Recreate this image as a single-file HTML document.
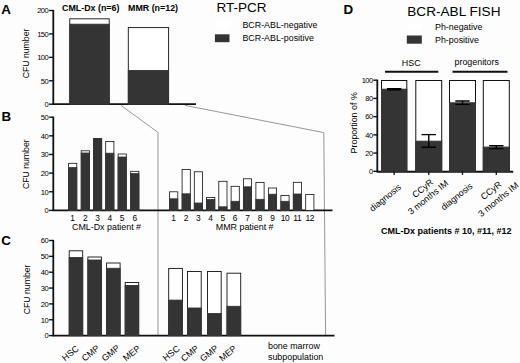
<!DOCTYPE html>
<html lang="en">
<head>
<meta charset="utf-8">
<title>Figure</title>
<style>
html,body{margin:0;padding:0;background:#fff;}
body{width:520px;height:363px;overflow:hidden;}
svg{display:block;}
svg text{font-family:"Liberation Sans", Arial, sans-serif;fill:#000;}
</style>
</head>
<body>
<svg width="520" height="363" viewBox="0 0 520 363">
<rect x="0" y="0" width="520" height="363" fill="#fdfdfd"/>
<text x="1.2" y="14.2" font-size="13.4" text-anchor="start" font-weight="bold">A</text>
<line x1="53.3" y1="9.9" x2="53.3" y2="104.8" stroke="#111" stroke-width="1.8"/>
<line x1="49.099999999999994" y1="104.2" x2="53.3" y2="104.2" stroke="#111" stroke-width="1.4"/>
<text x="48.3" y="107.0" font-size="7.6" text-anchor="end" letter-spacing="-0.5">0</text>
<line x1="49.099999999999994" y1="80.775" x2="53.3" y2="80.775" stroke="#111" stroke-width="1.4"/>
<text x="48.3" y="83.575" font-size="7.6" text-anchor="end" letter-spacing="-0.5">50</text>
<line x1="49.099999999999994" y1="57.35" x2="53.3" y2="57.35" stroke="#111" stroke-width="1.4"/>
<text x="48.3" y="60.15" font-size="7.6" text-anchor="end" letter-spacing="-0.5">100</text>
<line x1="49.099999999999994" y1="33.925" x2="53.3" y2="33.925" stroke="#111" stroke-width="1.4"/>
<text x="48.3" y="36.724999999999994" font-size="7.6" text-anchor="end" letter-spacing="-0.5">150</text>
<line x1="49.099999999999994" y1="10.5" x2="53.3" y2="10.5" stroke="#111" stroke-width="1.4"/>
<text x="48.3" y="13.3" font-size="7.6" text-anchor="end" letter-spacing="-0.5">200</text>
<line x1="52.6" y1="104.2" x2="196" y2="104.2" stroke="#111" stroke-width="1.7"/>
<text x="29.2" y="53.5" font-size="8.7" text-anchor="middle" transform="rotate(-90 29.2 53.5)">CFU number</text>
<rect x="69.8" y="18.8" width="39.40" height="85.40" fill="#fff" stroke="#111" stroke-width="0.9"/>
<rect x="69.8" y="24.2" width="39.40" height="80.00" fill="#343434" stroke="#343434" stroke-width="0.9"/>
<rect x="128.3" y="27.6" width="40.30" height="76.60" fill="#fff" stroke="#111" stroke-width="0.9"/>
<rect x="128.3" y="70.5" width="40.30" height="33.70" fill="#343434" stroke="#343434" stroke-width="0.9"/>
<text x="62" y="11.4" font-size="8.9" text-anchor="start" font-weight="bold">CML-Dx (n=6)</text>
<text x="128.0" y="11.4" font-size="8.9" text-anchor="start" font-weight="bold">MMR (n=12)</text>
<text x="216.5" y="12.2" font-size="13.5" text-anchor="start">RT-PCR</text>
<text x="242.4" y="28.2" font-size="8.9" text-anchor="start">BCR-ABL-negative</text>
<text x="242.4" y="41.4" font-size="8.9" text-anchor="start">BCR-ABL-positive</text>
<rect x="214.9" y="21.3" width="14.6" height="7.9" fill="#fff"/>
<rect x="214.9" y="34.3" width="14.6" height="7.9" fill="#343434"/>
<polyline points="121,105.4 158,132.4 158,335.5" fill="none" stroke="#7c7c7c" stroke-width="0.8"/>
<polyline points="185,105.4 323.8,132.6 325.6,335.5" fill="none" stroke="#7c7c7c" stroke-width="0.8"/>
<text x="1.4" y="121.3" font-size="13.4" text-anchor="start" font-weight="bold">B</text>
<line x1="53.3" y1="116.60000000000001" x2="53.3" y2="211.0" stroke="#111" stroke-width="1.8"/>
<line x1="49.099999999999994" y1="210.4" x2="53.3" y2="210.4" stroke="#111" stroke-width="1.4"/>
<text x="48.3" y="213.20000000000002" font-size="7.6" text-anchor="end" letter-spacing="-0.5">0</text>
<line x1="49.099999999999994" y1="191.76" x2="53.3" y2="191.76" stroke="#111" stroke-width="1.4"/>
<text x="48.3" y="194.56" font-size="7.6" text-anchor="end" letter-spacing="-0.5">10</text>
<line x1="49.099999999999994" y1="173.12" x2="53.3" y2="173.12" stroke="#111" stroke-width="1.4"/>
<text x="48.3" y="175.92000000000002" font-size="7.6" text-anchor="end" letter-spacing="-0.5">20</text>
<line x1="49.099999999999994" y1="154.48000000000002" x2="53.3" y2="154.48000000000002" stroke="#111" stroke-width="1.4"/>
<text x="48.3" y="157.28000000000003" font-size="7.6" text-anchor="end" letter-spacing="-0.5">30</text>
<line x1="49.099999999999994" y1="135.84" x2="53.3" y2="135.84" stroke="#111" stroke-width="1.4"/>
<text x="48.3" y="138.64000000000001" font-size="7.6" text-anchor="end" letter-spacing="-0.5">40</text>
<line x1="49.099999999999994" y1="117.2" x2="53.3" y2="117.2" stroke="#111" stroke-width="1.4"/>
<text x="48.3" y="120.0" font-size="7.6" text-anchor="end" letter-spacing="-0.5">50</text>
<line x1="52.6" y1="210.4" x2="332.5" y2="210.4" stroke="#111" stroke-width="1.7"/>
<text x="29.5" y="164.2" font-size="8.7" text-anchor="middle" transform="rotate(-90 29.5 164.2)">CFU number</text>
<rect x="68.6" y="163.3" width="8.20" height="47.10" fill="#fff" stroke="#111" stroke-width="0.8"/>
<rect x="68.6" y="167.6" width="8.20" height="42.80" fill="#343434" stroke="#343434" stroke-width="0.8"/>
<text x="72.69999999999999" y="220.6" font-size="8.4" text-anchor="middle">1</text>
<rect x="81.2" y="150.8" width="8.20" height="59.60" fill="#fff" stroke="#111" stroke-width="0.8"/>
<rect x="81.2" y="153.0" width="8.20" height="57.40" fill="#343434" stroke="#343434" stroke-width="0.8"/>
<text x="85.3" y="220.6" font-size="8.4" text-anchor="middle">2</text>
<rect x="93.5" y="138.6" width="8.20" height="71.80" fill="#fff" stroke="#111" stroke-width="0.8"/>
<rect x="93.5" y="138.6" width="8.20" height="71.80" fill="#343434" stroke="#343434" stroke-width="0.8"/>
<text x="97.6" y="220.6" font-size="8.4" text-anchor="middle">3</text>
<rect x="105.7" y="141.4" width="8.20" height="69.00" fill="#fff" stroke="#111" stroke-width="0.8"/>
<rect x="105.7" y="153.2" width="8.20" height="57.20" fill="#343434" stroke="#343434" stroke-width="0.8"/>
<text x="109.8" y="220.6" font-size="8.4" text-anchor="middle">4</text>
<rect x="118.1" y="154.0" width="8.20" height="56.40" fill="#fff" stroke="#111" stroke-width="0.8"/>
<rect x="118.1" y="157.0" width="8.20" height="53.40" fill="#343434" stroke="#343434" stroke-width="0.8"/>
<text x="122.19999999999999" y="220.6" font-size="8.4" text-anchor="middle">5</text>
<rect x="130.7" y="171.3" width="8.20" height="39.10" fill="#fff" stroke="#111" stroke-width="0.8"/>
<rect x="130.7" y="173.6" width="8.20" height="36.80" fill="#343434" stroke="#343434" stroke-width="0.8"/>
<text x="134.79999999999998" y="220.6" font-size="8.4" text-anchor="middle">6</text>
<text x="72" y="230.4" font-size="8.9" text-anchor="start">CML-Dx patient #</text>
<rect x="169.60000000000002" y="191.8" width="8.20" height="18.60" fill="#fff" stroke="#111" stroke-width="0.8"/>
<rect x="169.60000000000002" y="198.8" width="8.20" height="11.60" fill="#343434" stroke="#343434" stroke-width="0.8"/>
<text x="173.70000000000002" y="220.6" font-size="8.4" text-anchor="middle">1</text>
<rect x="182.10000000000002" y="169.5" width="8.20" height="40.90" fill="#fff" stroke="#111" stroke-width="0.8"/>
<rect x="182.10000000000002" y="193.8" width="8.20" height="16.60" fill="#343434" stroke="#343434" stroke-width="0.8"/>
<text x="186.20000000000002" y="220.6" font-size="8.4" text-anchor="middle">2</text>
<rect x="194.3" y="171.8" width="8.20" height="38.60" fill="#fff" stroke="#111" stroke-width="0.8"/>
<rect x="194.3" y="203.0" width="8.20" height="7.40" fill="#343434" stroke="#343434" stroke-width="0.8"/>
<text x="198.4" y="220.6" font-size="8.4" text-anchor="middle">3</text>
<rect x="206.60000000000002" y="197.5" width="8.20" height="12.90" fill="#fff" stroke="#111" stroke-width="0.8"/>
<rect x="206.60000000000002" y="199.5" width="8.20" height="10.90" fill="#343434" stroke="#343434" stroke-width="0.8"/>
<text x="210.70000000000002" y="220.6" font-size="8.4" text-anchor="middle">4</text>
<rect x="218.8" y="181.3" width="8.20" height="29.10" fill="#fff" stroke="#111" stroke-width="0.8"/>
<rect x="218.8" y="206.8" width="8.20" height="3.60" fill="#343434" stroke="#343434" stroke-width="0.8"/>
<text x="222.9" y="220.6" font-size="8.4" text-anchor="middle">5</text>
<rect x="231.10000000000002" y="186.3" width="8.20" height="24.10" fill="#fff" stroke="#111" stroke-width="0.8"/>
<rect x="231.10000000000002" y="201.3" width="8.20" height="9.10" fill="#343434" stroke="#343434" stroke-width="0.8"/>
<text x="235.20000000000002" y="220.6" font-size="8.4" text-anchor="middle">6</text>
<rect x="243.4" y="178.8" width="8.20" height="31.60" fill="#fff" stroke="#111" stroke-width="0.8"/>
<rect x="243.4" y="186.8" width="8.20" height="23.60" fill="#343434" stroke="#343434" stroke-width="0.8"/>
<text x="247.5" y="220.6" font-size="8.4" text-anchor="middle">7</text>
<rect x="255.9" y="182.5" width="8.20" height="27.90" fill="#fff" stroke="#111" stroke-width="0.8"/>
<rect x="255.9" y="199.3" width="8.20" height="11.10" fill="#343434" stroke="#343434" stroke-width="0.8"/>
<text x="260.0" y="220.6" font-size="8.4" text-anchor="middle">8</text>
<rect x="268.40000000000003" y="188.0" width="8.20" height="22.40" fill="#fff" stroke="#111" stroke-width="0.8"/>
<rect x="268.40000000000003" y="194.2" width="8.20" height="16.20" fill="#343434" stroke="#343434" stroke-width="0.8"/>
<text x="272.5" y="220.6" font-size="8.4" text-anchor="middle">9</text>
<rect x="280.90000000000003" y="195.5" width="8.20" height="14.90" fill="#fff" stroke="#111" stroke-width="0.8"/>
<rect x="280.90000000000003" y="201.3" width="8.20" height="9.10" fill="#343434" stroke="#343434" stroke-width="0.8"/>
<text x="285.0" y="220.6" font-size="8.4" text-anchor="middle" letter-spacing="-0.3">10</text>
<rect x="293.3" y="182.3" width="8.20" height="28.10" fill="#fff" stroke="#111" stroke-width="0.8"/>
<rect x="293.3" y="194.0" width="8.20" height="16.40" fill="#343434" stroke="#343434" stroke-width="0.8"/>
<text x="297.4" y="220.6" font-size="8.4" text-anchor="middle" letter-spacing="-0.3">11</text>
<rect x="305.7" y="194.5" width="8.20" height="15.90" fill="#fff" stroke="#111" stroke-width="0.8"/>
<text x="309.79999999999995" y="220.6" font-size="8.4" text-anchor="middle" letter-spacing="-0.3">12</text>
<text x="215.8" y="230.4" font-size="8.9" text-anchor="start">MMR patient #</text>
<text x="1.2" y="244.8" font-size="13.4" text-anchor="start" font-weight="bold">C</text>
<line x1="53.3" y1="239.9" x2="53.3" y2="336.20000000000005" stroke="#111" stroke-width="1.8"/>
<line x1="49.099999999999994" y1="335.6" x2="53.3" y2="335.6" stroke="#111" stroke-width="1.4"/>
<text x="48.3" y="338.40000000000003" font-size="7.6" text-anchor="end" letter-spacing="-0.5">0</text>
<line x1="49.099999999999994" y1="319.75" x2="53.3" y2="319.75" stroke="#111" stroke-width="1.4"/>
<text x="48.3" y="322.55" font-size="7.6" text-anchor="end" letter-spacing="-0.5">10</text>
<line x1="49.099999999999994" y1="303.90000000000003" x2="53.3" y2="303.90000000000003" stroke="#111" stroke-width="1.4"/>
<text x="48.3" y="306.70000000000005" font-size="7.6" text-anchor="end" letter-spacing="-0.5">20</text>
<line x1="49.099999999999994" y1="288.05" x2="53.3" y2="288.05" stroke="#111" stroke-width="1.4"/>
<text x="48.3" y="290.85" font-size="7.6" text-anchor="end" letter-spacing="-0.5">30</text>
<line x1="49.099999999999994" y1="272.2" x2="53.3" y2="272.2" stroke="#111" stroke-width="1.4"/>
<text x="48.3" y="275.0" font-size="7.6" text-anchor="end" letter-spacing="-0.5">40</text>
<line x1="49.099999999999994" y1="256.35" x2="53.3" y2="256.35" stroke="#111" stroke-width="1.4"/>
<text x="48.3" y="259.15000000000003" font-size="7.6" text-anchor="end" letter-spacing="-0.5">50</text>
<line x1="49.099999999999994" y1="240.5" x2="53.3" y2="240.5" stroke="#111" stroke-width="1.4"/>
<text x="48.3" y="243.3" font-size="7.6" text-anchor="end" letter-spacing="-0.5">60</text>
<line x1="52.6" y1="335.6" x2="334.5" y2="335.6" stroke="#111" stroke-width="1.7"/>
<text x="29.6" y="289.4" font-size="8.7" text-anchor="middle" transform="rotate(-90 29.6 289.4)">CFU number</text>
<rect x="69.19999999999999" y="250.8" width="13.50" height="84.80" fill="#fff" stroke="#111" stroke-width="0.9"/>
<rect x="69.19999999999999" y="257.5" width="13.50" height="78.10" fill="#343434" stroke="#343434" stroke-width="0.9"/>
<g transform="translate(70.3 353.0) rotate(-39)">
<text x="0" y="3.19" font-size="8.9" text-anchor="middle">HSC</text>
</g>
<rect x="87.89999999999999" y="257.0" width="13.50" height="78.60" fill="#fff" stroke="#111" stroke-width="0.9"/>
<rect x="87.89999999999999" y="260.0" width="13.50" height="75.60" fill="#343434" stroke="#343434" stroke-width="0.9"/>
<g transform="translate(90.5 353.0) rotate(-39)">
<text x="0" y="3.19" font-size="8.9" text-anchor="middle">CMP</text>
</g>
<rect x="106.6" y="263.0" width="13.50" height="72.60" fill="#fff" stroke="#111" stroke-width="0.9"/>
<rect x="106.6" y="268.3" width="13.50" height="67.30" fill="#343434" stroke="#343434" stroke-width="0.9"/>
<g transform="translate(110.5 353.0) rotate(-39)">
<text x="0" y="3.19" font-size="8.9" text-anchor="middle">GMP</text>
</g>
<rect x="125.19999999999999" y="282.5" width="13.50" height="53.10" fill="#fff" stroke="#111" stroke-width="0.9"/>
<rect x="125.19999999999999" y="285.5" width="13.50" height="50.10" fill="#343434" stroke="#343434" stroke-width="0.9"/>
<g transform="translate(131.5 353.0) rotate(-39)">
<text x="0" y="3.19" font-size="8.9" text-anchor="middle">MEP</text>
</g>
<rect x="168.70000000000002" y="268.4" width="13.70" height="67.20" fill="#fff" stroke="#111" stroke-width="0.9"/>
<rect x="168.70000000000002" y="300.1" width="13.70" height="35.50" fill="#343434" stroke="#343434" stroke-width="0.9"/>
<g transform="translate(171.1 353.2) rotate(-39)">
<text x="0" y="3.19" font-size="8.9" text-anchor="middle">HSC</text>
</g>
<rect x="187.5" y="271.5" width="13.70" height="64.10" fill="#fff" stroke="#111" stroke-width="0.9"/>
<rect x="187.5" y="308.0" width="13.70" height="27.60" fill="#343434" stroke="#343434" stroke-width="0.9"/>
<g transform="translate(189.6 353.2) rotate(-39)">
<text x="0" y="3.19" font-size="8.9" text-anchor="middle">CMP</text>
</g>
<rect x="207.5" y="271.5" width="13.70" height="64.10" fill="#fff" stroke="#111" stroke-width="0.9"/>
<rect x="207.5" y="313.5" width="13.70" height="22.10" fill="#343434" stroke="#343434" stroke-width="0.9"/>
<g transform="translate(208.9 353.2) rotate(-39)">
<text x="0" y="3.19" font-size="8.9" text-anchor="middle">GMP</text>
</g>
<rect x="227.0" y="273.2" width="13.70" height="62.40" fill="#fff" stroke="#111" stroke-width="0.9"/>
<rect x="227.0" y="306.3" width="13.70" height="29.30" fill="#343434" stroke="#343434" stroke-width="0.9"/>
<g transform="translate(227.6 353.2) rotate(-39)">
<text x="0" y="3.19" font-size="8.9" text-anchor="middle">MEP</text>
</g>
<text x="268" y="349.3" font-size="8.9" text-anchor="start">bone marrow</text>
<text x="268" y="359.8" font-size="8.9" text-anchor="start">subpopulation</text>
<text x="343.6" y="14.4" font-size="13.4" text-anchor="start" font-weight="bold">D</text>
<text x="407.3" y="16.4" font-size="13.6" text-anchor="start">BCR-ABL FISH</text>
<text x="435" y="29.6" font-size="8.9" text-anchor="start">Ph-negative</text>
<text x="435" y="42.6" font-size="8.9" text-anchor="start">Ph-positive</text>
<rect x="406.8" y="22.8" width="15" height="7.8" fill="#fff"/>
<rect x="406.8" y="35.5" width="15" height="8.2" fill="#343434"/>
<text x="401.8" y="66.3" font-size="8.9" text-anchor="start">HSC</text>
<text x="454.5" y="64.6" font-size="8.9" text-anchor="start">progenitors</text>
<line x1="385" y1="71.8" x2="438.3" y2="71.8" stroke="#111" stroke-width="2"/>
<line x1="452.5" y1="71.8" x2="507.5" y2="71.8" stroke="#111" stroke-width="2"/>
<line x1="377.3" y1="79.60000000000001" x2="377.3" y2="171.9" stroke="#111" stroke-width="1.8"/>
<line x1="373.3" y1="171.3" x2="377.3" y2="171.3" stroke="#111" stroke-width="1.4"/>
<text x="372.5" y="174.10000000000002" font-size="7.4" text-anchor="end" letter-spacing="-0.5">0</text>
<line x1="373.3" y1="153.08" x2="377.3" y2="153.08" stroke="#111" stroke-width="1.4"/>
<text x="372.5" y="155.88000000000002" font-size="7.4" text-anchor="end" letter-spacing="-0.5">20</text>
<line x1="373.3" y1="134.86" x2="377.3" y2="134.86" stroke="#111" stroke-width="1.4"/>
<text x="372.5" y="137.66000000000003" font-size="7.4" text-anchor="end" letter-spacing="-0.5">40</text>
<line x1="373.3" y1="116.64000000000001" x2="377.3" y2="116.64000000000001" stroke="#111" stroke-width="1.4"/>
<text x="372.5" y="119.44000000000001" font-size="7.4" text-anchor="end" letter-spacing="-0.5">60</text>
<line x1="373.3" y1="98.42000000000002" x2="377.3" y2="98.42000000000002" stroke="#111" stroke-width="1.4"/>
<text x="372.5" y="101.22000000000001" font-size="7.4" text-anchor="end" letter-spacing="-0.5">80</text>
<line x1="373.3" y1="80.2" x2="377.3" y2="80.2" stroke="#111" stroke-width="1.4"/>
<text x="372.5" y="83.0" font-size="7.4" text-anchor="end" letter-spacing="-0.5">100</text>
<line x1="376.6" y1="171.70000000000002" x2="513.2" y2="171.70000000000002" stroke="#111" stroke-width="1.9"/>
<text x="357.2" y="122.8" font-size="8.9" text-anchor="middle" transform="rotate(-90 357.2 122.8)">Proportion of %</text>
<rect x="381.5" y="80.5" width="25.30" height="90.80" fill="#fff" stroke="#111" stroke-width="1.0"/>
<rect x="381.5" y="89.2" width="25.30" height="82.10" fill="#343434" stroke="#343434" stroke-width="1.0"/>
<line x1="394.15" y1="171.3" x2="394.15" y2="174.9" stroke="#111" stroke-width="1.3"/>
<path d="M386.95 88.6H401.34999999999997M386.95 89.8H401.34999999999997M394.15 88.6V89.8" stroke="#000" stroke-width="1.4" fill="none"/>
<rect x="415.8" y="80.5" width="25.90" height="90.80" fill="#fff" stroke="#111" stroke-width="1.0"/>
<rect x="415.8" y="141.2" width="25.90" height="30.10" fill="#343434" stroke="#343434" stroke-width="1.0"/>
<line x1="428.75" y1="171.3" x2="428.75" y2="174.9" stroke="#111" stroke-width="1.3"/>
<path d="M421.55 134.6H435.95M421.55 147.2H435.95M428.75 134.6V147.2" stroke="#000" stroke-width="1.4" fill="none"/>
<rect x="449.5" y="80.5" width="26.00" height="90.80" fill="#fff" stroke="#111" stroke-width="1.0"/>
<rect x="449.5" y="102.8" width="26.00" height="68.50" fill="#343434" stroke="#343434" stroke-width="1.0"/>
<line x1="462.5" y1="171.3" x2="462.5" y2="174.9" stroke="#111" stroke-width="1.3"/>
<path d="M455.3 101.0H469.7M455.3 104.4H469.7M462.5 101.0V104.4" stroke="#000" stroke-width="1.4" fill="none"/>
<rect x="483.3" y="80.5" width="26.00" height="90.80" fill="#fff" stroke="#111" stroke-width="1.0"/>
<rect x="483.3" y="147.1" width="26.00" height="24.20" fill="#343434" stroke="#343434" stroke-width="1.0"/>
<line x1="496.3" y1="171.3" x2="496.3" y2="174.9" stroke="#111" stroke-width="1.3"/>
<path d="M489.1 145.8H503.5M489.1 148.6H503.5M496.3 145.8V148.6" stroke="#000" stroke-width="1.4" fill="none"/>
<g transform="translate(385.1 197.6) rotate(-39)">
<text x="0" y="3.19" font-size="8.9" text-anchor="middle">diagnosis</text>
</g>
<g transform="translate(456.5 196.4) rotate(-39)">
<text x="0" y="3.19" font-size="8.9" text-anchor="middle">diagnosis</text>
</g>
<g transform="translate(422.4 188.3) rotate(-39)">
<text x="0" y="3.19" font-size="8.9" text-anchor="middle">CCyR</text>
</g>
<g transform="translate(428.0 197.2) rotate(-39)">
<text x="0" y="3.19" font-size="8.9" text-anchor="middle">3 months IM</text>
</g>
<g transform="translate(491.0 190.4) rotate(-39)">
<text x="0" y="3.19" font-size="8.9" text-anchor="middle">CCyR</text>
</g>
<g transform="translate(498.2 199.3) rotate(-39)">
<text x="0" y="3.19" font-size="8.9" text-anchor="middle">3 months IM</text>
</g>
<text x="381" y="233.8" font-size="9.0" text-anchor="start" font-weight="bold">CML-Dx patients # 10, #11, #12</text>
</svg>
</body>
</html>
